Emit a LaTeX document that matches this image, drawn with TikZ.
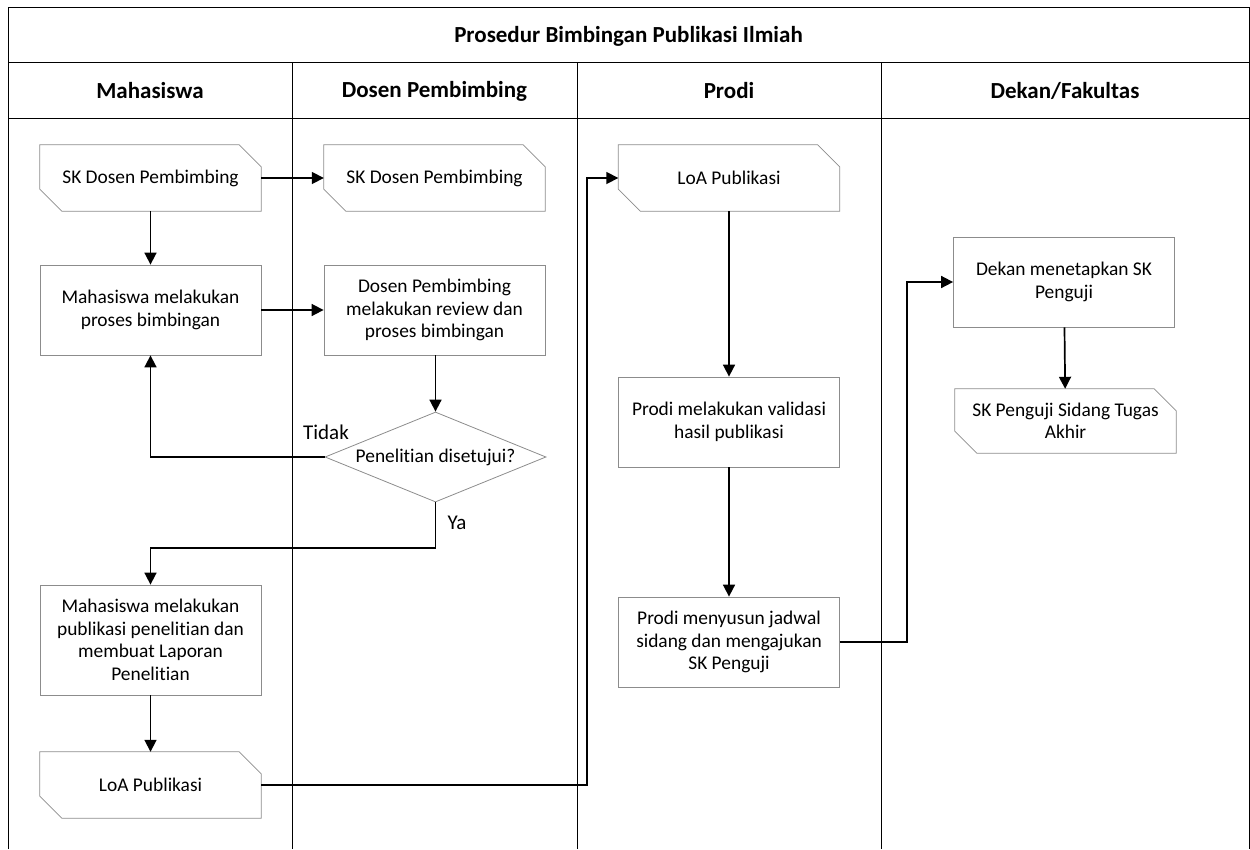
\documentclass[tikz,border=0pt]{standalone}
\usepackage{fontspec}
\setmainfont{Carlito}[Ligatures=NoCommon]
\usetikzlibrary{shapes.geometric,arrows.meta}
\tikzset{
  lane/.style={draw=black,line width=0.8pt},
  boxtxt/.style={align=center,font=\fontsize{19.4}{22.5}\selectfont,inner sep=0pt},
  procbox/.style={boxtxt,draw=gray!90,line width=0.8pt,minimum width=221pt,minimum height=90pt},
  docbox/.style={boxtxt,minimum width=221pt,minimum height=66pt},
  docline/.style={draw=gray!90,line width=0.8pt},
  decbox/.style={boxtxt,diamond,draw=gray!90,line width=0.8pt,minimum width=221pt,minimum height=90pt,aspect=2.45},
  arr/.style={line width=1.7pt,-{Triangle[length=12pt,width=12pt]}},
  hdr/.style={font=\bfseries\fontsize{23}{27}\selectfont},
  lbl/.style={font=\fontsize{21}{25}\selectfont,inner sep=0pt},
}
\newcommand{\docoutline}[1]{%
  \draw[docline] (#1.north west) -- ([xshift=-22pt]#1.north east) -- ([yshift=-22pt]#1.north east)
    -- (#1.south east) -- ([xshift=22pt]#1.south west) -- ([yshift=22pt]#1.south west) -- cycle;}
\begin{document}
\begin{tikzpicture}[x=1pt,y=-1pt]
\useasboundingbox (0,0) rectangle (1250,849);
% frame
\draw[lane] (8,849) -- (8,7) -- (1249,7) -- (1249,849);
\draw[lane] (8,62) -- (1249,62);
\draw[lane] (8,118) -- (1249,118);
\draw[lane] (292,62) -- (292,849);
\draw[lane] (577,62) -- (577,849);
\draw[lane] (881,62) -- (881,849);
\node[hdr] (title) at (628.5,36) {Prosedur Bimbingan Publikasi Ilmiah};
\node[hdr] (h1) at (150,91) {Mahasiswa};
\node[hdr] (h2) at (434.5,91) {Dosen Pembimbing};
\node[hdr] (h3) at (729,91) {Prodi};
\node[hdr] (h4) at (1065,91) {Dekan/Fakultas};
% nodes
\node[docbox] (sk1) at (150.5,178) {SK Dosen Pembimbing}; \docoutline{sk1}
\node[docbox] (sk2) at (434.5,178) {SK Dosen Pembimbing}; \docoutline{sk2}
\node[procbox] (m1) at (150.5,310) {Mahasiswa melakukan\\proses bimbingan};
\node[procbox] (d1) at (434.5,310) {Dosen Pembimbing\\melakukan review dan\\proses bimbingan};
\node[decbox] (dec) at (435.5,457) {Penelitian disetujui?};
\node[procbox,minimum height=110pt] (m2) at (150.5,640) {Mahasiswa melakukan\\publikasi penelitian dan\\membuat Laporan\\Penelitian};
\node[docbox] (loa1) at (150.5,785) {LoA Publikasi}; \docoutline{loa1}
\node[docbox] (loa2) at (729,178) {LoA Publikasi}; \docoutline{loa2}
\node[procbox] (p1) at (729,422) {Prodi melakukan validasi\\hasil publikasi};
\node[procbox] (p2) at (729,642) {Prodi menyusun jadwal\\sidang dan mengajukan\\SK Penguji};
\node[procbox] (k1) at (1064,282) {Dekan menetapkan SK\\Penguji};
\node[docbox,minimum height=64pt] (k2) at (1065.5,421) {SK Penguji Sidang Tugas\\Akhir}; \docoutline{k2}
% labels
\node[lbl] (tidak) at (326,432) {Tidak};
\node[lbl] (ya) at (457,523) {Ya};
% connectors
\coordinate (c1) at (587,0);
\coordinate (c2) at (907,0);
\coordinate (c3) at (0,548);
\draw[arr] (sk1) -- (sk2);
\draw[arr] (sk1) -- (m1);
\draw[arr] (m1) -- (d1);
\draw[arr] (d1.south -| dec.north) -- (dec.north);
\draw[arr] (dec.west) -| (m1.south);
\draw[arr] (dec.south) -- (dec.south |- c3) -| (m2.north);
\draw[arr] (m2) -- (loa1);
\draw[arr] (loa1.east) -- (c1 |- loa1.east) -- (c1 |- loa2.west) -- (loa2.west);
\draw[arr] (loa2) -- (p1);
\draw[arr] (p1) -- (p2);
\draw[arr] (p2.east) -- (c2 |- p2.east) -- (c2 |- k1.west) -- (k1.west);
\draw[arr] (k1) -- (k2);
\end{tikzpicture}
\end{document}
